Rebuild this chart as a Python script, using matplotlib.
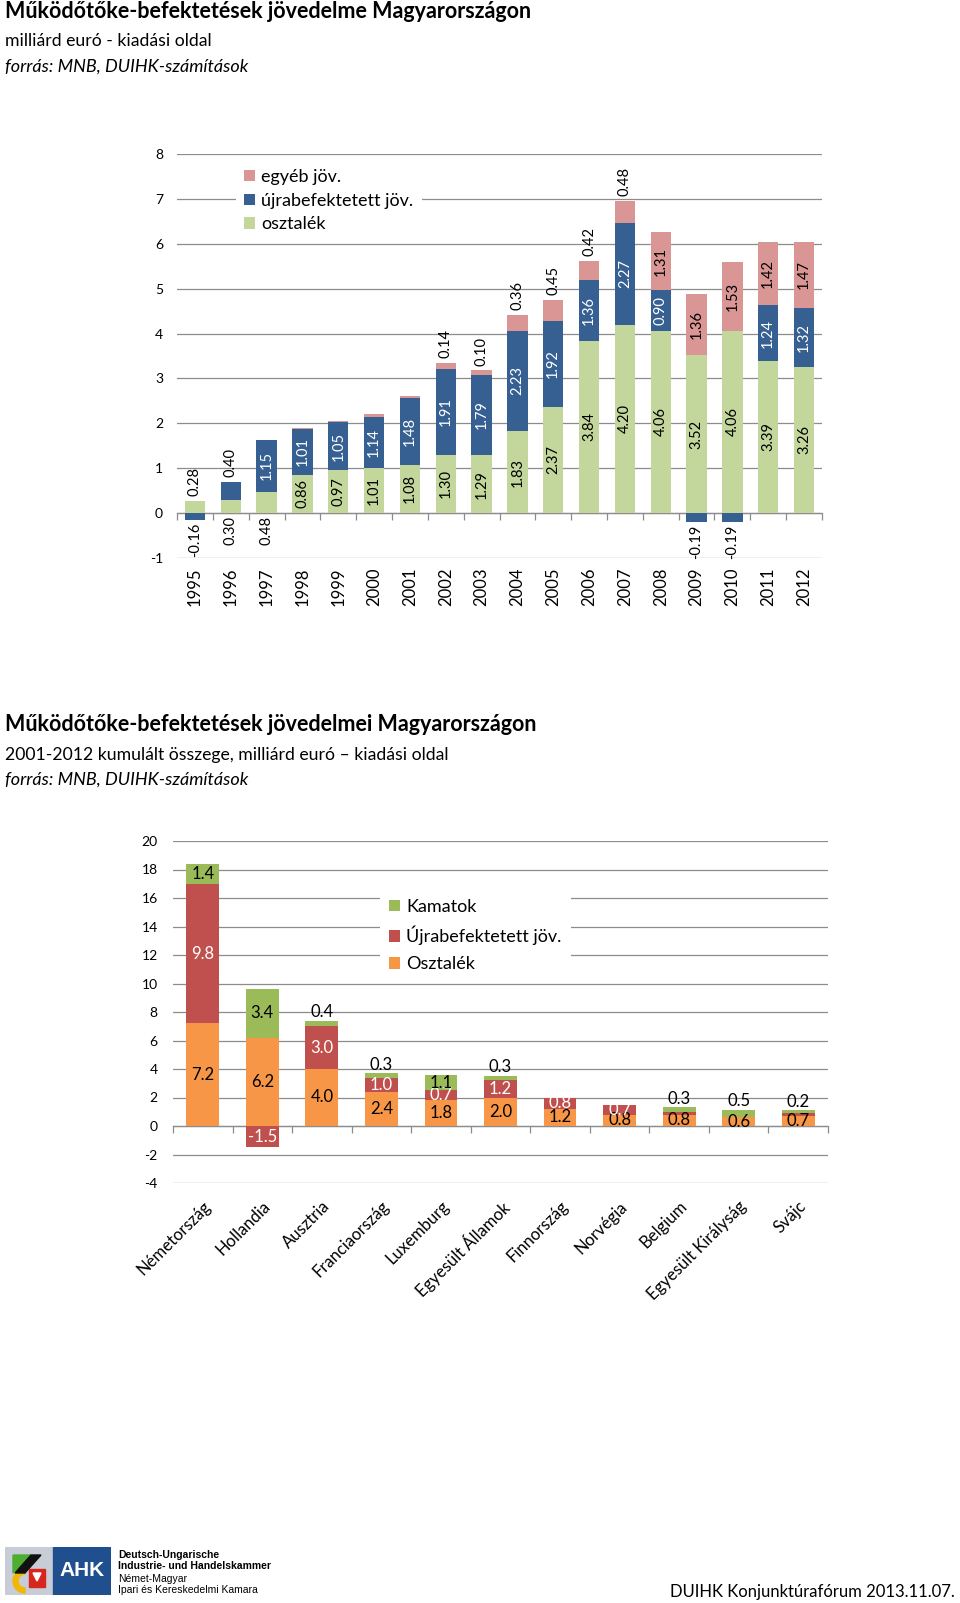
import numpy as np
import matplotlib
matplotlib.use("Agg")
from matplotlib import pyplot as plt
from matplotlib.patches import Rectangle, Polygon, Wedge

plt.rcParams['font.family'] = ['Lato', 'DejaVu Sans']
plt.rcParams['axes.unicode_minus'] = False

# --- chart 1 data: 1995-2012, milliárd euró
years = ['1995', '1996', '1997', '1998', '1999', '2000', '2001', '2002', '2003',
         '2004', '2005', '2006', '2007', '2008', '2009', '2010', '2011', '2012']
osztalek = [0.28, 0.30, 0.48, 0.86, 0.97, 1.01, 1.08, 1.30, 1.29, 1.83, 2.37,
            3.84, 4.20, 4.06, 3.52, 4.06, 3.39, 3.26]
ujrabef = [-0.16, 0.40, 1.15, 1.01, 1.05, 1.14, 1.48, 1.91, 1.79, 2.23, 1.92,
           1.36, 2.27, 0.90, -0.19, -0.19, 1.24, 1.32]
egyeb = [0.00, 0.00, 0.00, 0.03, 0.03, 0.05, 0.06, 0.14, 0.10, 0.36, 0.45,
         0.42, 0.48, 1.31, 1.36, 1.53, 1.42, 1.47]

# where each data label sits
osz_pos = ['above', 'below', 'below'] + ['in'] * 15
ujra_pos = ['below', 'above'] + ['in'] * 12 + ['below', 'below', 'in', 'in']
egy_pos = [None] * 7 + ['above'] * 6 + ['in'] * 5

# --- chart 2 data: 2001-2012 cumulated
countries = ['Németország', 'Hollandia', 'Ausztria', 'Franciaország', 'Luxemburg',
             'Egyesült Államok', 'Finnország', 'Norvégia', 'Belgium',
             'Egyesült Királyság', 'Svájc']
osztalek2 = [7.2, 6.2, 4.0, 2.4, 1.8, 2.0, 1.2, 0.8, 0.8, 0.6, 0.7]
ujrabef2 = [9.8, -1.5, 3.0, 1.0, 0.7, 1.2, 0.8, 0.7, 0.2, 0.05, 0.2]
kamatok2 = [1.4, 3.4, 0.4, 0.3, 1.1, 0.3, 0.0, 0.0, 0.3, 0.5, 0.2]

osz2_pos = ['in'] * 11
ujra2_pos = ['in'] * 8 + [None] * 3
kam2_pos = ['in', 'in', 'above', 'above', 'in', 'above', None, None,
            'above', 'above', 'above']

W, H = 960, 1603
GRID = '#8c8c8c'


def px_box(l, t, r, b):
    return [l / W, 1 - b / H, (r - l) / W, (b - t) / H]


def stacked(ax, x, series, colors, width):
    pos_base = np.zeros(len(x))
    neg_base = np.zeros(len(x))
    out = []
    for vals, c in zip(series, colors):
        v = np.array(vals, dtype=float)
        bottom = np.where(v >= 0, pos_base, neg_base)
        h = ax.bar(x, v, width, bottom=bottom, color=c, linewidth=0, zorder=3)
        out.append((h, v, bottom.copy()))
        pos_base = pos_base + np.where(v >= 0, v, 0)
        neg_base = neg_base + np.where(v < 0, v, 0)
    return out, pos_base, neg_base


def put_labels(ax, x, bar, positions, top, low, fmt, in_color, rot, fs, gap_up, gap_down):
    h, v, bottom = bar
    for i, p in enumerate(positions):
        if p is None:
            continue
        txt = fmt.format(v[i])
        if p == 'in':
            ax.text(x[i], bottom[i] + v[i] / 2, txt, ha='center', va='center',
                    rotation=rot, color=in_color, fontsize=fs, zorder=4)
        elif p == 'above':
            ax.annotate(txt, (x[i], top[i]), xytext=(0, gap_up), textcoords='offset points',
                        ha='center', va='bottom', rotation=rot, fontsize=fs, zorder=4)
        else:
            ax.annotate(txt, (x[i], low[i]), xytext=(0, -gap_down), textcoords='offset points',
                        ha='center', va='top', rotation=rot, fontsize=fs, zorder=4)


def base_axes(ax, ymin, ymax, step, n, ypad, ysize):
    ax.set_xlim(-0.5, n - 0.5)
    ax.set_ylim(ymin, ymax)
    ax.set_yticks(np.arange(ymin, ymax + step, step))
    for s in ax.spines.values():
        s.set_visible(False)
    ax.grid(axis='y', color=GRID, lw=0.9, zorder=0)
    ax.set_axisbelow(True)
    ax.tick_params(axis='y', length=0, pad=ypad, labelsize=ysize)
    # zero line with category separators
    sec = ax.secondary_xaxis((0 - ymin) / (ymax - ymin))
    sec.set_xticks(np.arange(-0.5, n, 1.0))
    sec.set_xticklabels([])
    sec.tick_params(length=5, color=GRID, width=0.9)
    sec.spines['bottom'].set_color(GRID)
    sec.spines['bottom'].set_linewidth(0.9)


fig = plt.figure(figsize=(W / 100, H / 100), dpi=100)

# titles
fig.text(5 / W, 1 - 11 / H, 'Működőtőke-befektetések jövedelme Magyarországon',
         fontsize=15.5, fontweight='bold', va='center')
fig.text(5 / W, 1 - 41 / H, 'milliárd euró - kiadási oldal', fontsize=12.7, va='center')
fig.text(5 / W, 1 - 67 / H, 'forrás: MNB, DUIHK-számítások', fontsize=13,
         style='italic', va='center')

fig.text(5 / W, 1 - 724 / H, 'Működőtőke-befektetések jövedelmei Magyarországon',
         fontsize=15.5, fontweight='bold', va='center')
fig.text(5 / W, 1 - 755 / H, '2001-2012 kumulált összege, milliárd euró – kiadási oldal',
         fontsize=12.7, va='center')
fig.text(5 / W, 1 - 780 / H, 'forrás: MNB, DUIHK-számítások', fontsize=13,
         style='italic', va='center')

# ---------------- chart 1
ax1 = fig.add_axes(px_box(177, 154, 822, 558))
x1 = np.arange(len(years))
base_axes(ax1, -1, 8, 1, len(years), 10, 10)
bars1, top1, low1 = stacked(ax1, x1, [osztalek, ujrabef, egyeb],
                            ['#C3D69B', '#376092', '#D99694'], 0.57)
ax1.set_xticks(x1)
ax1.set_xticklabels(years, rotation=90, fontsize=12)
ax1.tick_params(axis='x', length=0, pad=7)

put_labels(ax1, x1, bars1[0], osz_pos, top1, low1, '{:.2f}', 'black', 90, 10.5, 3.5, 2)
put_labels(ax1, x1, bars1[1], ujra_pos, top1, low1, '{:.2f}', 'white', 90, 10.5, 3.5, 2)
put_labels(ax1, x1, bars1[2], egy_pos, top1, low1, '{:.2f}', 'black', 90, 10.5, 3.5, 2)

leg1 = ax1.legend([bars1[2][0], bars1[1][0], bars1[0][0]],
                  ['egyéb jöv.', 'újrabefektetett jöv.', 'osztalék'],
                  loc='upper left', bbox_to_anchor=(236 / W, 1 - 161 / H),
                  bbox_transform=fig.transFigure, fontsize=13, frameon=True,
                  fancybox=False, edgecolor='none', facecolor='white', framealpha=1,
                  borderpad=0.45, handlelength=0.6, handleheight=0.6,
                  handletextpad=0.35, labelspacing=0.42, borderaxespad=0)
leg1.set_zorder(5)

# ---------------- chart 2
ax2 = fig.add_axes(px_box(173, 841, 828, 1183))
x2 = np.arange(len(countries))
base_axes(ax2, -4, 20, 2, len(countries), 11, 10)
bars2, top2, low2 = stacked(ax2, x2, [osztalek2, ujrabef2, kamatok2],
                            ['#F79646', '#C0504D', '#9BBB59'], 0.55)
ax2.set_xticks(x2)
ax2.set_xticklabels(countries, rotation=45, ha='right', rotation_mode='anchor', fontsize=12)
ax2.tick_params(axis='x', length=0, pad=11)

put_labels(ax2, x2, bars2[0], osz2_pos, top2, low2, '{:.1f}', 'black', 0, 12, 0.5, 1)
put_labels(ax2, x2, bars2[1], ujra2_pos, top2, low2, '{:.1f}', 'white', 0, 12, 0.5, 1)
put_labels(ax2, x2, bars2[2], kam2_pos, top2, low2, '{:.1f}', 'black', 0, 12, 0.5, 1)

leg2 = ax2.legend([bars2[2][0], bars2[1][0], bars2[0][0]],
                  ['Kamatok', 'Újrabefektetett jöv.', 'Osztalék'],
                  loc='upper left', bbox_to_anchor=(380 / W, 1 - 890 / H),
                  bbox_transform=fig.transFigure, fontsize=13, frameon=True,
                  fancybox=False, edgecolor='none', facecolor='white', framealpha=1,
                  borderpad=0.5, handlelength=0.6, handleheight=0.6,
                  handletextpad=0.35, labelspacing=0.6, borderaxespad=0)
leg2.set_zorder(5)

# ---------------- footer: AHK logo + text
axl = fig.add_axes(px_box(5, 1547, 111, 1595))
axl.set_xlim(0, 106)
axl.set_ylim(0, 48)
axl.axis('off')
axl.add_patch(Rectangle((0, 0), 48, 48, color='#c7ccd6'))
axl.add_patch(Rectangle((48, 0), 58, 48, color='#1f4f8f'))
axl.add_patch(Wedge((20, 14), 12, 90, 270, width=5, color='#f2b705'))
axl.add_patch(Polygon([(8, 40), (26, 40), (8, 22)], color='#4caf32'))
axl.add_patch(Polygon([(26, 40), (36, 40), (20, 22), (10, 22)], color='#111111'))
axl.add_patch(Polygon([(24, 26), (40, 26), (40, 8), (24, 8)], color='#d7261e'))
axl.add_patch(Polygon([(28, 22), (36, 22), (32, 14)], color='white'))
axl.text(77, 24, 'AHK', color='white', fontsize=15, fontweight='bold',
         ha='center', va='center', family=['Liberation Sans', 'DejaVu Sans'])

lines = ['Deutsch-Ungarische', 'Industrie- und Handelskammer', 'Német-Magyar',
         'Ipari és Kereskedelmi Kamara']
ys = [1555, 1566, 1579, 1590]
for t, yy, wt in zip(lines, ys, ['bold', 'bold', 'normal', 'normal']):
    fig.text(118 / W, 1 - yy / H, t, fontsize=7.5, fontweight=wt, va='center',
             family=['Liberation Sans', 'DejaVu Sans'])

fig.text(955 / W, 1 - 1592 / H, 'DUIHK Konjunktúrafórum 2013.11.07.',
         ha='right', va='center', fontsize=12)

fig.savefig('out.png', dpi=100)
